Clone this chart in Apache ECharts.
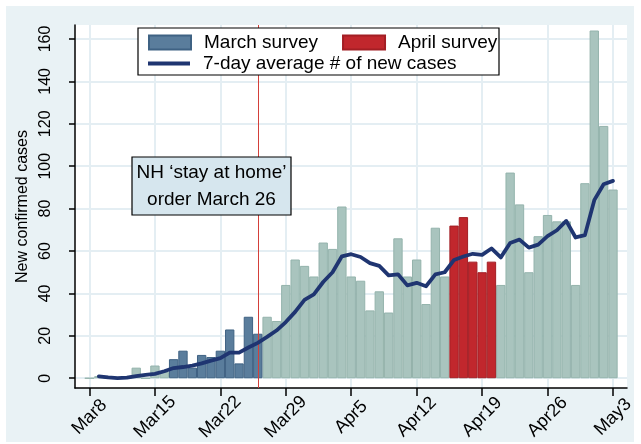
<!DOCTYPE html>
<html>
<head>
<meta charset="utf-8">
<title>NH new confirmed cases</title>
<script src="https://cdn.jsdelivr.net/npm/echarts@6/dist/echarts.min.js"></script>
<style>
  html, body { margin: 0; padding: 0; background: #fff; }
  #chart { width: 641px; height: 444px; }
</style>
</head>
<body>
<div id="chart"></div>
<script>
// daily data, Mar 8 .. May 3
const dates = [
  'Mar 8', 'Mar 9', 'Mar 10', 'Mar 11', 'Mar 12', 'Mar 13', 'Mar 14', 'Mar 15', 'Mar 16',
  'Mar 17', 'Mar 18', 'Mar 19', 'Mar 20', 'Mar 21', 'Mar 22', 'Mar 23', 'Mar 24', 'Mar 25', 'Mar 26',
  'Mar 27', 'Mar 28', 'Mar 29', 'Mar 30', 'Mar 31',
  'Apr 1', 'Apr 2', 'Apr 3', 'Apr 4', 'Apr 5', 'Apr 6', 'Apr 7', 'Apr 8', 'Apr 9', 'Apr 10',
  'Apr 11', 'Apr 12', 'Apr 13', 'Apr 14', 'Apr 15',
  'Apr 16', 'Apr 17', 'Apr 18', 'Apr 19', 'Apr 20',
  'Apr 21', 'Apr 22', 'Apr 23', 'Apr 24', 'Apr 25', 'Apr 26', 'Apr 27', 'Apr 28', 'Apr 29', 'Apr 30',
  'May 1', 'May 2', 'May 3'
];

const newCases = [
  0, 1, 0, 0, 0, 5, 0, 6, 3,
  9, 13, 5, 11, 10, 13, 23, 7, 29, 21,
  29, 27, 44, 56, 53,
  48, 64, 61, 81, 48, 46, 32, 41, 31, 66,
  48, 56, 35, 71, 48,
  72, 76, 55, 50, 55,
  44, 97, 82, 50, 67, 77, 74, 74, 44, 92,
  164, 119, 89
];

// which survey window each day falls in
const survey = [
  '', '', '', '', '', '', '', '', '',
  'March', 'March', 'March', 'March', 'March', 'March', 'March', 'March', 'March', 'March',
  '', '', '', '', '',
  '', '', '', '', '', '', '', '', '', '',
  '', '', '', '', '',
  'April', 'April', 'April', 'April', 'April',
  '', '', '', '', '', '', '', '', '', '',
  '', '', ''
];

const avg7 = [
  null, 0.9, 0.4, 0.1, 0.3, 1.0, 1.6, 2.1, 3.3,
  4.8, 5.3, 6.0, 7.0, 8.3, 9.5, 12.1, 12.1, 14.5, 16.7,
  19.5, 22.5, 26.5, 31.3, 37.0,
  39.6, 45.4, 50.0, 57.5, 58.5, 57.2, 54.3, 53.0, 48.5, 49.0,
  43.8, 45.0, 43.4, 49.0, 50.0,
  55.8, 57.4, 58.7, 58.2, 61.2,
  57.0, 63.8, 65.4, 61.6, 63.0, 67.0, 69.8, 74.2, 66.4, 67.5,
  84.0, 91.5, 93.1
];

const xTickDates = ['Mar 8', 'Mar 15', 'Mar 22', 'Mar 29', 'Apr 5', 'Apr 12', 'Apr 19', 'Apr 26', 'May 3'];
const xTickLabels = ['Mar8', 'Mar15', 'Mar22', 'Mar29', 'Apr5', 'Apr12', 'Apr19', 'Apr26', 'May3'];
const yTicks = [0, 20, 40, 60, 80, 100, 120, 140, 160];
const stayHomeDate = 'Mar 26';

const FONT = "'Liberation Sans', Arial, sans-serif";
const xTickPos = xTickDates.map(d => dates.indexOf(d));

function barData(group) {
  return newCases.map((v, i) => [i, survey[i] === group ? v : '-']);
}

const chart = echarts.init(document.getElementById('chart'));

const barCommon = { type: 'bar', barWidth: '100%', barGap: '-100%', silent: true };
const lineIcon = 'path://M0,0M42,14M0,5H42V9H0Z';

chart.setOption({
  animation: false,
  backgroundColor: '#fff',
  textStyle: { fontFamily: FONT },
  grid: { left: 75, right: 14, top: 25, bottom: 56, show: true, backgroundColor: '#fff', borderWidth: 0 },
  graphic: [
    // light panel behind the plot
    { type: 'rect', z: -100, shape: { x: 6, y: 6, width: 628, height: 436 }, style: { fill: '#e9f2f5' } },
    // legend frame
    { type: 'rect', z: 100, shape: { x: 138, y: 28, width: 361, height: 47 },
      style: { fill: '#fff', stroke: '#000', lineWidth: 1.2 } },
    // annotation box
    { type: 'rect', z: 100, shape: { x: 132, y: 157, width: 159, height: 58 },
      style: { fill: '#d6e6ee', stroke: '#000', lineWidth: 1.2 } },
    { type: 'text', z: 101, x: 211.5, y: 186,
      style: { text: 'NH \u2018stay at home\u2019\norder March 26', fill: '#000', font: '19px ' + FONT,
        align: 'center', verticalAlign: 'middle', lineHeight: 27 } }
  ],
  legend: [
    { left: 148, top: 33, padding: 0, z: 200, selectedMode: false, itemWidth: 42, itemHeight: 14, itemGap: 24,
      data: [{ name: 'March survey', icon: 'rect' }, { name: 'April survey', icon: 'rect' }],
      textStyle: { fontFamily: FONT, fontSize: 19, color: '#000', padding: [0, 0, 0, 8] } },
    { left: 148, top: 54, padding: 0, z: 200, selectedMode: false, itemWidth: 42, itemHeight: 14,
      data: [{ name: '7-day average # of new cases', icon: lineIcon }],
      textStyle: { fontFamily: FONT, fontSize: 19, color: '#000', padding: [0, 0, 0, 8] } }
  ],
  xAxis: {
    type: 'value', min: -1.55, max: 57.5,
    axisLine: { onZero: false, lineStyle: { color: '#000', width: 1.5 } },
    axisTick: { customValues: xTickPos, length: 8, lineStyle: { color: '#000', width: 1.5 } },
    axisLabel: { customValues: xTickPos, rotate: 45, margin: 29, align: 'center', verticalAlign: 'middle',
      fontSize: 18, color: '#000', formatter: v => xTickLabels[xTickPos.indexOf(v)] },
    splitLine: { show: true, lineStyle: { color: '#e4eef3', width: 2 } }
  },
  yAxis: {
    type: 'value', min: -4.6, max: 166.6,
    name: 'New confirmed cases', nameLocation: 'middle', nameGap: 44,
    nameTextStyle: { fontSize: 16, color: '#000', fontFamily: FONT },
    axisLine: { show: true, onZero: false, lineStyle: { color: '#000', width: 1.5 } },
    axisTick: { show: true, customValues: yTicks, length: 6, lineStyle: { color: '#000', width: 1.5 } },
    axisLabel: { customValues: yTicks, rotate: 90, margin: 21, fontSize: 16, color: '#000' },
    splitLine: { show: true, lineStyle: { color: '#e4eef3', width: 2 } }
  },
  series: [
    Object.assign({}, barCommon, {
      name: 'Other days', data: barData(''),
      itemStyle: { color: '#a9c4be', borderColor: '#94b3ac', borderWidth: 1 },
      markLine: { silent: true, symbol: 'none', label: { show: false },
        lineStyle: { color: '#d4403a', width: 1, type: 'solid' },
        data: [{ xAxis: dates.indexOf(stayHomeDate) }] }
    }),
    Object.assign({}, barCommon, {
      name: 'March survey', data: barData('March'),
      itemStyle: { color: '#5a7d9c', borderColor: '#3f6283', borderWidth: 1 }
    }),
    Object.assign({}, barCommon, {
      name: 'April survey', data: barData('April'),
      itemStyle: { color: '#c1272d', borderColor: '#a31e24', borderWidth: 1 }
    }),
    {
      type: 'line', name: '7-day average # of new cases', silent: true, z: 5,
      data: avg7.map((v, i) => [i, v === null ? '-' : v]),
      symbol: 'none', connectNulls: false,
      lineStyle: { color: '#1f3571', width: 3.8, cap: 'round', join: 'round' },
      itemStyle: { color: '#1f3571' }
    }
  ]
});
</script>
</body>
</html>
